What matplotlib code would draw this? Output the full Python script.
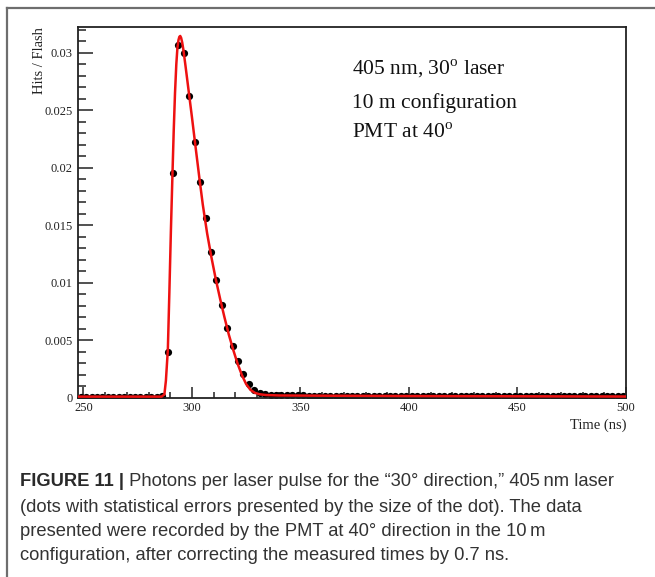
import numpy as np
import matplotlib.pyplot as plt
from matplotlib.lines import Line2D
from matplotlib.ticker import MultipleLocator

plt.rcParams['mathtext.fontset'] = 'custom'
plt.rcParams['mathtext.rm'] = 'Liberation Serif'

# histogram: 101 bins of 2.5 ns from 247.5 to 500 ns
bin_edges = np.linspace(247.5, 500.0, 102)
hits_per_flash = [
    0.0001, 0.0001, 0.0001, 0.0001, 0.0001, 0.0001, 0.0001, 0.0001,
    0.0001, 0.0001, 0.0001, 0.0001, 0.0001, 0.0001, 0.0001, 0.00018,
    0.00402, 0.01952, 0.03067, 0.02995, 0.02624, 0.02224, 0.01874, 0.01566,
    0.01268, 0.01025, 0.00805, 0.00606, 0.00454, 0.00321, 0.00206, 0.00122,
    0.0007, 0.00042, 0.00032, 0.00027, 0.00025, 0.00024, 0.00023, 0.00023,
    0.00022, 0.00022, 0.00021, 0.00021, 0.00021, 0.0002, 0.0002, 0.0002,
    0.0002, 0.0002, 0.0002, 0.00019, 0.00019, 0.00019, 0.00019, 0.00019,
    0.00018, 0.00018, 0.00018, 0.00018, 0.00018, 0.00018, 0.00018, 0.00017,
    0.00017, 0.00017, 0.00017, 0.00017, 0.00017, 0.00017, 0.00017, 0.00016,
    0.00016, 0.00016, 0.00016, 0.00016, 0.00016, 0.00016, 0.00016, 0.00016,
    0.00016, 0.00016, 0.00015, 0.00015, 0.00015, 0.00015, 0.00015, 0.00015,
    0.00015, 0.00015, 0.00015, 0.00015, 0.00015, 0.00015, 0.00015, 0.00015,
    0.00015, 0.00015, 0.00015, 0.00015, 0.00015,
]
bin_centers = 0.5 * (bin_edges[:-1] + bin_edges[1:])

# fitted pulse shape
fit_time = [247.5, 286.0, 287.3, 288.0, 288.9, 289.6, 290.3, 291.05, 291.6,
            292.2, 292.8, 293.3, 293.8, 294.2, 294.6, 295.0, 295.5, 296.1,
            297.0, 298.0, 298.8, 300.0, 300.9, 302.0, 303.5, 305.0, 307.0,
            309.0, 311.0, 313.0, 315.0, 317.0, 319.0, 321.0, 323.0, 325.0,
            327.0, 329.0, 331.0, 334.0, 340.0, 360.0, 400.0, 500.0]
fit_value = [0.00012, 0.00012, 0.0003, 0.0015, 0.0042, 0.0092, 0.0145, 0.0196, 0.0232,
             0.0265, 0.0290, 0.0304, 0.0311, 0.03138, 0.03145, 0.0313, 0.0309, 0.0302,
             0.0289, 0.0274, 0.0262, 0.0244, 0.0230, 0.0213, 0.0190, 0.0168, 0.0143,
             0.0122, 0.0103, 0.0086, 0.0070, 0.0055, 0.0042, 0.0030, 0.0020, 0.0012,
             0.0007, 0.00045, 0.00033, 0.00026, 0.00022, 0.0002, 0.00017, 0.00013]

y_ticks = [0, 0.005, 0.01, 0.015, 0.02, 0.025, 0.03]
y_tick_labels = ['0', '0.005', '0.01', '0.015', '0.02', '0.025', '0.03']
x_ticks = [250, 300, 350, 400, 450, 500]

info_lines = [r'405 nm, 30$^{\mathrm{o}}$ laser',
              '10 m configuration',
              r'PMT at 40$^{\mathrm{o}}$']

caption_head = 'FIGURE 11 |'
caption_lines = [
    ' Photons per laser pulse for the \u201c30\u00b0 direction,\u201d 405\u2009nm laser',
    '(dots with statistical errors presented by the size of the dot). The data',
    'presented were recorded by the PMT at 40\u00b0 direction in the 10\u2009m',
    'configuration, after correcting the measured times by 0.7 ns.',
]

W, H = 655, 577
fig = plt.figure(figsize=(W / 100, H / 100), dpi=100)
ax = fig.add_axes([78 / W, 1 - 398 / H, 548 / W, 371 / H])

serif = 'Liberation Serif'
ink = '#222222'

ax.plot(bin_centers, hits_per_flash, 'o', color='black', ms=5.2, mew=0, zorder=2)
ax.plot(fit_time, fit_value, '-', color='#ee1111', lw=1.8, zorder=3,
        solid_joinstyle='round')

ax.set_xlim(247.5, 500)
ax.set_ylim(0, 0.03223)
ax.set_xticks(x_ticks)
ax.set_xticklabels([str(t) for t in x_ticks])
ax.set_yticks(y_ticks)
ax.set_yticklabels(y_tick_labels)
ax.xaxis.set_minor_locator(MultipleLocator(10))
ax.yaxis.set_minor_locator(MultipleLocator(0.001))

ax.tick_params(axis='y', which='major', direction='in', length=11, width=1.1,
               pad=4, labelsize=9, colors=ink)
ax.tick_params(axis='y', which='minor', direction='in', length=6, width=1.1, colors=ink)
ax.tick_params(axis='x', which='major', direction='in', length=8, width=1.1,
               pad=3, labelsize=9, colors=ink)
ax.tick_params(axis='x', which='minor', direction='in', length=4, width=1.1, colors=ink)
for lab in ax.get_xticklabels() + ax.get_yticklabels():
    lab.set_fontfamily(serif)
for sp in ax.spines.values():
    sp.set_color(ink)
    sp.set_linewidth(1.3)

ax.text(-0.071, 1.0, 'Hits / Flash', rotation=90, ha='center', va='top',
        transform=ax.transAxes, fontsize=10.5, family=serif, color=ink)
ax.text(1.0, -0.0728, 'Time (ns)', ha='right', va='center',
        transform=ax.transAxes, fontsize=10.5, family=serif, color=ink)

for yy, line in zip([0.8706, 0.7809, 0.70], info_lines):
    ax.text(0.5, yy, line, ha='left', va='baseline', transform=ax.transAxes,
            fontsize=15.5, family=serif, color='#111111')

# outer frame of the figure panel
fig.add_artist(Line2D([7 / W, 1], [1 - 8 / H, 1 - 8 / H], color='#6e6e6e', lw=1.6))
fig.add_artist(Line2D([7 / W, 7 / W], [0, 1 - 8 / H], color='#6e6e6e', lw=1.6))

# caption, bold label followed by regular text
cap_color = '#333333'
cap_size = 13.2
cap_y = [482, 507, 531, 555]
head = fig.text(20 / W, 1 - cap_y[0] / H, caption_head, ha='left', va='center',
                fontsize=cap_size, family='Liberation Sans', weight='bold', color='#2a2a2a')
renderer = fig.canvas.get_renderer()
head_box = head.get_window_extent(renderer)
fig.text(head_box.x1 / W, 1 - cap_y[0] / H, caption_lines[0], ha='left', va='center',
         fontsize=cap_size, family='Liberation Sans', color=cap_color)
for yy, line in zip(cap_y[1:], caption_lines[1:]):
    fig.text(20 / W, 1 - yy / H, line, ha='left', va='center',
             fontsize=cap_size, family='Liberation Sans', color=cap_color)

fig.savefig('out.png', dpi=100)
